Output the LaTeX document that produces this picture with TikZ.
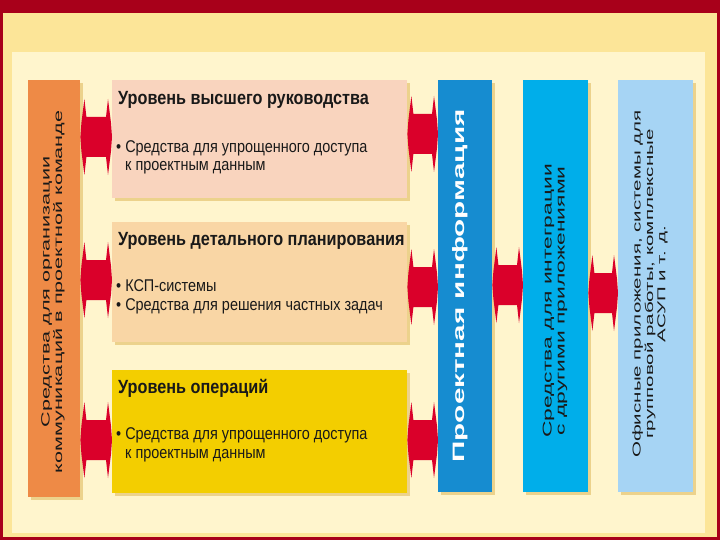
\documentclass[tikz,border=0pt]{standalone}
\usepackage{fontspec}
\setmainfont{Liberation Sans}
\newfontfamily\hfont[FakeStretch=0.85]{Liberation Sans}
\newfontfamily\vfont[FakeStretch=1.8]{Liberation Sans}
\usetikzlibrary{calc,shadows}

\definecolor{framered}{RGB}{168,0,26}
\definecolor{bandyellow}{RGB}{252,229,152}
\definecolor{cream}{RGB}{255,245,205}
\definecolor{shadowtan}{RGB}{236,210,140}
\definecolor{commorange}{RGB}{238,138,70}
\definecolor{toppink}{RGB}{249,212,190}
\definecolor{midtan}{RGB}{249,214,165}
\definecolor{opsyellow}{RGB}{243,206,0}
\definecolor{infoblue}{RGB}{22,140,208}
\definecolor{integcyan}{RGB}{0,174,234}
\definecolor{officeblue}{RGB}{166,212,244}
\definecolor{arrowred}{RGB}{218,0,42}
\definecolor{ink}{RGB}{25,25,25}

\tikzset{
  panel/.style = {draw = none, inner sep = 0, anchor = north west,
    drop shadow = {shadow xshift = 3pt, shadow yshift = -3pt, fill = shadowtan, opacity = 1}},
  head/.style = {anchor = base west, inner sep = 0, text = ink,
    font = \hfont\fontsize{19.1}{21}\selectfont\bfseries},
  item/.style = {anchor = base west, inner sep = 0, text = ink,
    font = \hfont\fontsize{17}{19}\selectfont},
  side/.style = {rotate = 90, align = center, inner sep = 0, text = ink,
    font = \vfont\fontsize{12}{12.5}\selectfont},
}

% double arrow between two panels at height #3
\newcommand{\twoway}[3]{%
  \coordinate (la) at (#1.east |- 0, #3);
  \coordinate (lb) at (#2.west |- 0, #3);
  \fill [arrowred] (la) -- ++(1, 14) -- ++(3, 24) -- ++(2, -18) -- ($(lb) + (-6, 20)$)
    -- ++(2, 18) -- ++(3, -24) -- (lb) -- ++(-1, -14) -- ++(-3, -24) -- ++(-2, 18)
    -- ($(la) + (6, -20)$) -- ++(-2, -18) -- ++(-3, 24) -- cycle;
}

\begin{document}
\begin{tikzpicture}[x = 1pt, y = 1pt]
\useasboundingbox (0, 0) rectangle (720, -540);
%\draw [help lines, step = 20] (0, 0) grid (720, -540);
\fill [bandyellow] (0, 0) rectangle (720, -540);
\fill [cream] (12, -52) rectangle (705, -533);
\fill [framered] (0, 0) rectangle (720, -13);
\draw [framered, line width = 3] (1.5, -13) -- (1.5, -538.5) -- (718.5, -538.5) -- (718.5, -13);

\node [panel, fill = commorange, minimum width = 52, minimum height = 417] (comm) at (28, -80) {};
\node [panel, fill = toppink, minimum width = 295, minimum height = 118] (lvltop) at (112, -80) {};
\node [panel, fill = midtan, minimum width = 295, minimum height = 120] (lvlmid) at (112, -222) {};
\node [panel, fill = opsyellow, minimum width = 295, minimum height = 123] (lvlops) at (112, -370) {};
\node [panel, fill = infoblue, minimum width = 54, minimum height = 412] (info) at (438, -80) {};
\node [panel, fill = integcyan, minimum width = 65, minimum height = 412] (integ) at (523, -80) {};
\node [panel, fill = officeblue, minimum width = 75, minimum height = 412] (office) at (618, -80) {};

\node [side] (commtext) at (53, -292) {Средства для организации\\коммуникаций в проектной команде};
\node [side, text = white, font = \vfont\fontsize{16.5}{20}\selectfont\bfseries] (infotext) at (460, -286) {Проектная информация};
\node [side, font = \vfont\fontsize{12.7}{12.8}\selectfont] (integtext) at (555, -301) {Средства для интеграции\\с другими приложениями};
\node [side, font = \vfont\fontsize{11.4}{12.3}\selectfont] (officetext) at (650, -284) {Офисные приложения, системы для\\групповой работы, комплексные\\АСУП и т. д.};

\node [head] (tophead) at (118, -105) {Уровень высшего руководства};
\node [item] (topitem) at (116, -153) {• Средства для упрощенного доступа};
\node [item] (topmore) at (125, -171) {к проектным данным};
\node [head] (midhead) at (118, -245) {Уровень детального планирования};
\node [item] (miditem) at (116, -291) {• КСП-системы};
\node [item] (midmore) at (116, -310) {• Средства для решения частных задач};
\node [head] (opshead) at (118, -393) {Уровень операций};
\node [item] (opsitem) at (116, -439) {• Средства для упрощенного доступа};
\node [item] (opsmore) at (125, -458) {к проектным данным};

\twoway{comm}{lvltop}{-137}
\twoway{comm}{lvlmid}{-280}
\twoway{comm}{lvlops}{-440}
\twoway{lvltop}{info}{-134}
\twoway{lvlmid}{info}{-287}
\twoway{lvlops}{info}{-440}
\twoway{info}{integ}{-285}
\twoway{integ}{office}{-293}
\end{tikzpicture}
\end{document}
